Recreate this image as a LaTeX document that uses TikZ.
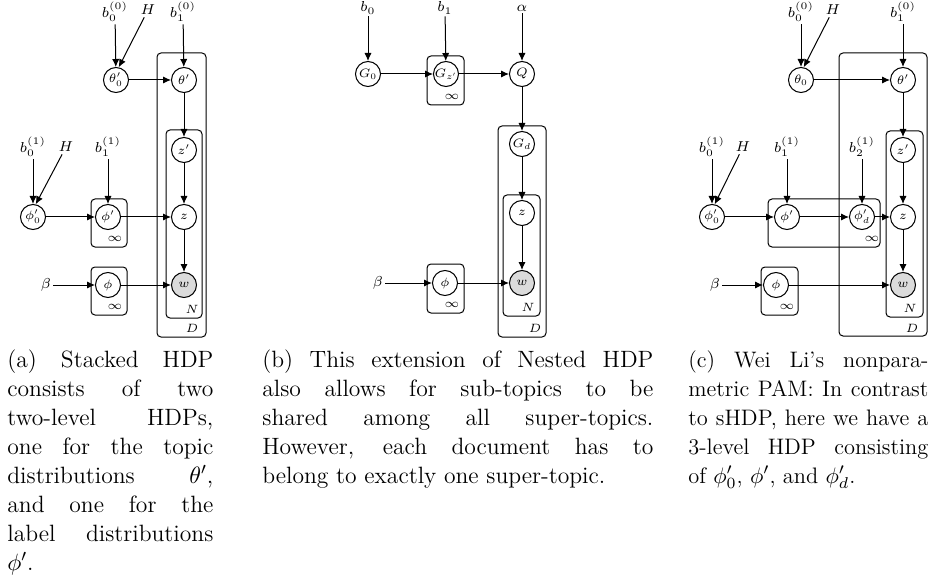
\RequirePackage{fix-cm}
\documentclass[tikz,border=0pt]{standalone}
\usetikzlibrary{arrows.meta}
\newcommand\capfont{\fontsize{11.8}{14.5}\selectfont}
\newcommand\capfontc{\fontsize{11.2}{14.5}\selectfont}
\newcommand\nodefont{\fontsize{6.1}{6.5}\selectfont}
\newcommand\lblfont{\fontsize{7.2}{8}\selectfont}
\newcommand\platefont{\fontsize{6}{7}\selectfont}
\newlength\capw
\newcommand\jline[1]{\noindent\makebox[\capw][s]{#1}\par}
\newcommand\lline[1]{\noindent #1\par}
\tikzset{
  rv/.style={circle, draw, line width=0.5pt, minimum size=12.5pt, inner sep=0pt, font=\nodefont},
  obs/.style={rv, fill=black!14},
  lbl/.style={inner sep=1pt, font=\lblfont},
  platelbl/.style={inner sep=0pt, font=\platefont},
  plate/.style={draw, rounded corners=2pt, line width=0.5pt},
  edge/.style={-{Latex[length=4pt,width=3.6pt]}, line width=0.5pt},
  captext/.style={anchor=base west, inner sep=0pt}
}
\begin{document}
\begin{tikzpicture}[x=0.5pt,y=-0.5pt]
\useasboundingbox (0,0) rectangle (938,583);
% ---------------- panel (a)
\draw[plate] (157,53) rectangle (206,337);
\draw[plate] (166,130) rectangle (202,318);
\draw[plate] (91,199) rectangle (127,247);
\draw[plate] (91,267) rectangle (127,315);
\node[platelbl] (infa1) at (115,239) {$\infty$};
\node[platelbl] (infa2) at (115,307) {$\infty$};
\node[platelbl] (Na) at (192,309) {$N$};
\node[platelbl] (Da) at (192,328) {$D$};
\node[lbl] (b00a) at (115,12) {$b_0^{(0)}$};
\node[lbl] (Ha) at (148,10) {$H$};
\node[lbl] (b10a) at (183,12) {$b_1^{(0)}$};
\node[rv] (t0a) at (116,80) {$\theta'_0$};
\node[rv] (ta) at (184,80) {$\theta'$};
\node[rv] (zpa) at (184,150) {$z'$};
\node[rv] (za) at (184,217) {$z$};
\node[obs] (wa) at (184,285) {$w$};
\node[lbl] (b01a) at (33,147) {$b_0^{(1)}$};
\node[lbl] (H2a) at (66,147) {$H$};
\node[lbl] (b11a) at (108,147) {$b_1^{(1)}$};
\node[rv] (p0a) at (33,217) {$\phi'_0$};
\node[rv] (ppa) at (108,217) {$\phi'$};
\node[lbl] (betaa) at (46,285) {$\beta$};
\node[rv] (phia) at (108,285) {$\phi$};
\draw[edge] (b00a) -- (t0a);
\draw[edge] (Ha) -- (t0a.78);
\draw[edge] (b10a) -- (ta);
\draw[edge] (t0a) -- (ta);
\draw[edge] (ta) -- (zpa);
\draw[edge] (zpa) -- (za);
\draw[edge] (za) -- (wa);
\draw[edge] (b01a) -- (p0a);
\draw[edge] (H2a) -- (p0a.78);
\draw[edge] (b11a) -- (ppa);
\draw[edge] (p0a) -- (ppa);
\draw[edge] (ppa) -- (za);
\draw[edge] (betaa) -- (phia);
\draw[edge] (phia) -- (wa);
% ---------------- panel (b)
\draw[plate] (427,56) rectangle (464,105);
\draw[plate] (427,264) rectangle (464,313);
\draw[plate] (498,126) rectangle (546,337);
\draw[plate] (503,195) rectangle (540,316);
\node[platelbl] (infb1) at (452,97) {$\infty$};
\node[platelbl] (infb2) at (452,305) {$\infty$};
\node[platelbl] (Nb) at (528,307) {$N$};
\node[platelbl] (Db) at (535,328) {$D$};
\node[lbl] (b0b) at (368,8) {$b_0$};
\node[lbl] (b1b) at (445,8) {$b_1$};
\node[lbl] (alb) at (522,8) {$\alpha$};
\node[rv] (G0) at (368,74) {$G_0$};
\node[rv] (Gz) at (446,74) {$G_{z'}$};
\node[rv] (Q) at (522,74) {$Q$};
\node[rv] (Gd) at (522,144) {$G_d$};
\node[rv] (zb) at (522,213) {$z$};
\node[obs] (wb) at (522,283) {$w$};
\node[lbl] (betab) at (378,283) {$\beta$};
\node[rv] (phib) at (445,283) {$\phi$};
\draw[edge] (b0b) -- (G0);
\draw[edge] (b1b) -- (Gz);
\draw[edge] (alb) -- (Q);
\draw[edge] (G0) -- (Gz);
\draw[edge] (Gz) -- (Q);
\draw[edge] (Q) -- (Gd);
\draw[edge] (Gd) -- (zb);
\draw[edge] (zb) -- (wb);
\draw[edge] (betab) -- (phib);
\draw[edge] (phib) -- (wb);
% ---------------- panel (c)
\draw[plate] (839,53) rectangle (927,336);
\draw[plate] (886,131) rectangle (923,317);
\draw[plate] (768,199) rectangle (880,247);
\draw[plate] (761,267) rectangle (798,315);
\node[platelbl] (infc1) at (872,239) {$\infty$};
\node[platelbl] (infc2) at (787,307) {$\infty$};
\node[platelbl] (Nc) at (910,308) {$N$};
\node[platelbl] (Dc) at (912,328) {$D$};
\node[lbl] (b00c) at (801,12) {$b_0^{(0)}$};
\node[lbl] (Hc) at (833,10) {$H$};
\node[lbl] (b10c) at (903,12) {$b_1^{(0)}$};
\node[rv] (t0c) at (801,80) {$\theta_0$};
\node[rv] (tc) at (903,80) {$\theta'$};
\node[rv] (zpc) at (903,150) {$z'$};
\node[rv] (zc) at (903,217) {$z$};
\node[obs] (wc) at (903,285) {$w$};
\node[lbl] (b01c) at (712,147) {$b_0^{(1)}$};
\node[lbl] (H2c) at (743,147) {$H$};
\node[lbl] (b11c) at (787,147) {$b_1^{(1)}$};
\node[lbl] (b21c) at (862,147) {$b_2^{(1)}$};
\node[rv] (p0c) at (712,217) {$\phi'_0$};
\node[rv] (ppc) at (787,217) {$\phi'$};
\node[rv] (pdc) at (862,217) {$\phi'_d$};
\node[lbl] (betac) at (715,285) {$\beta$};
\node[rv] (phic) at (776,285) {$\phi$};
\draw[edge] (b00c) -- (t0c);
\draw[edge] (Hc) -- (t0c.78);
\draw[edge] (b10c) -- (tc);
\draw[edge] (t0c) -- (tc);
\draw[edge] (tc) -- (zpc);
\draw[edge] (zpc) -- (zc);
\draw[edge] (zc) -- (wc);
\draw[edge] (b01c) -- (p0c);
\draw[edge] (H2c) -- (p0c.78);
\draw[edge] (b11c) -- (ppc);
\draw[edge] (b21c) -- (pdc);
\draw[edge] (p0c) -- (ppc);
\draw[edge] (ppc) -- (pdc);
\draw[edge] (pdc) -- (zc);
\draw[edge] (betac) -- (phic);
\draw[edge] (phic) -- (wc);
% ---------------- captions
\node[captext] (capa) at (7,367) {\setlength\capw{103pt}\parbox[t]{\capw}{\capfont
\jline{(a) Stacked HDP}
\jline{consists of two}
\jline{two-level HDPs,}
\jline{one for the topic}
\jline{distributions $\theta'$,}
\jline{and one for the}
\jline{label distributions}
\lline{$\phi'$.}}};
\node[captext] (capb) at (262,367) {\setlength\capw{195.5pt}\parbox[t]{\capw}{\capfont
\jline{(b) This extension of Nested HDP}
\jline{also allows for sub-topics to be}
\jline{shared among all super-topics.}
\jline{However, each document has to}
\lline{belong to exactly one super-topic.}}};
\node[captext] (capc) at (688,367) {\setlength\capw{120pt}\parbox[t]{\capw}{\capfontc
\jline{(c) Wei Li's nonpara-}
\jline{metric PAM: In contrast}
\jline{to sHDP, here we have a}
\jline{3-level HDP consisting}
\lline{of $\phi'_0$, $\phi'$, and $\phi'_d$.}}};
\end{tikzpicture}
\end{document}
